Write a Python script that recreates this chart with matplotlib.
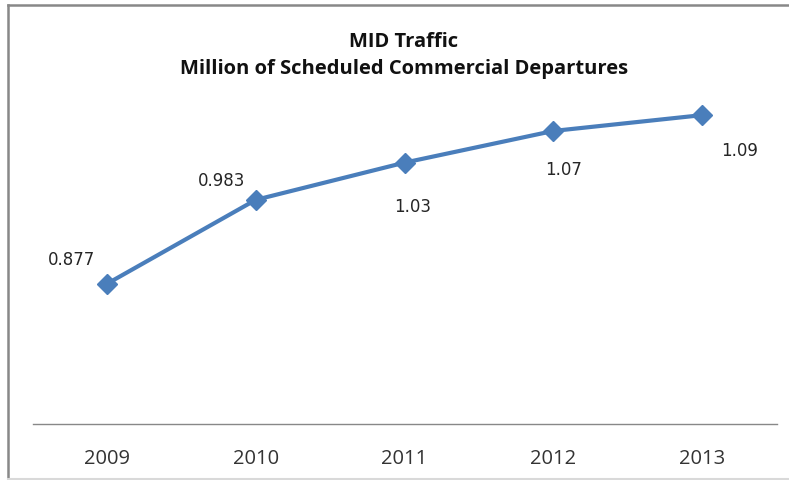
import matplotlib.pyplot as plt
from matplotlib.lines import Line2D

years = ['2009', '2010', '2011', '2012', '2013']
departures = [0.877, 0.983, 1.03, 1.07, 1.09]
labels = ['0.877', '0.983', '1.03', '1.07', '1.09']
# label offsets in pixels (dx, dy up)
offsets = [(-35, 25), (-34, 20), (8, -43), (10, -38), (37, -35)]

fig = plt.figure(figsize=(7.89, 4.81), dpi=100)
ax = fig.add_axes([32.5 / 789, 1 - 425 / 481, 744 / 789, 396 / 481])

x = range(len(years))
ax.plot(x, departures, color='#4a7ebb', lw=3, marker='D', ms=10, mec='#4a7ebb', mfc='#4a7ebb')

for i, (v, t) in enumerate(zip(departures, labels)):
    dx, dy = offsets[i]
    ax.annotate(t, (i, v), xytext=(dx * 0.72, dy * 0.72), textcoords='offset points',
                ha='center', va='center', fontsize=12, color='#262626', family='DejaVu Sans')

ax.set_xlim(-0.5, 4.5)
ax.set_ylim(0.7, 1.2)
ax.set_yticks([])
ax.set_xticks(list(x))
ax.set_xticklabels(years, fontsize=14.5, color='#333333', family='Open Sans')
ax.tick_params(axis='x', length=0, pad=17)
for s in ['top', 'right', 'left']:
    ax.spines[s].set_visible(False)
ax.spines['bottom'].set_color('#888888')
ax.spines['bottom'].set_linewidth(1)

fig.text(404 / 789, 1 - 47 / 481, 'MID Traffic', ha='center', va='baseline',
         fontsize=14.5, fontweight='bold', family='Open Sans', color='#111111')
fig.text(404 / 789, 1 - 74 / 481, 'Million of Scheduled Commercial Departures', ha='center', va='baseline',
         fontsize=14.5, fontweight='bold', family='Open Sans', color='#111111')

# frame: dark top and left edges, faint bottom edge
fig.add_artist(Line2D([8 / 789, 1], [1 - 6 / 481] * 2, transform=fig.transFigure, color='#888888', lw=1.8))
fig.add_artist(Line2D([8 / 789] * 2, [0, 1 - 6 / 481], transform=fig.transFigure, color='#888888', lw=1.8))
fig.add_artist(Line2D([8 / 789, 1], [1.5 / 481] * 2, transform=fig.transFigure, color='#d9d9d9', lw=1.5))

fig.savefig('out.png', dpi=100)
